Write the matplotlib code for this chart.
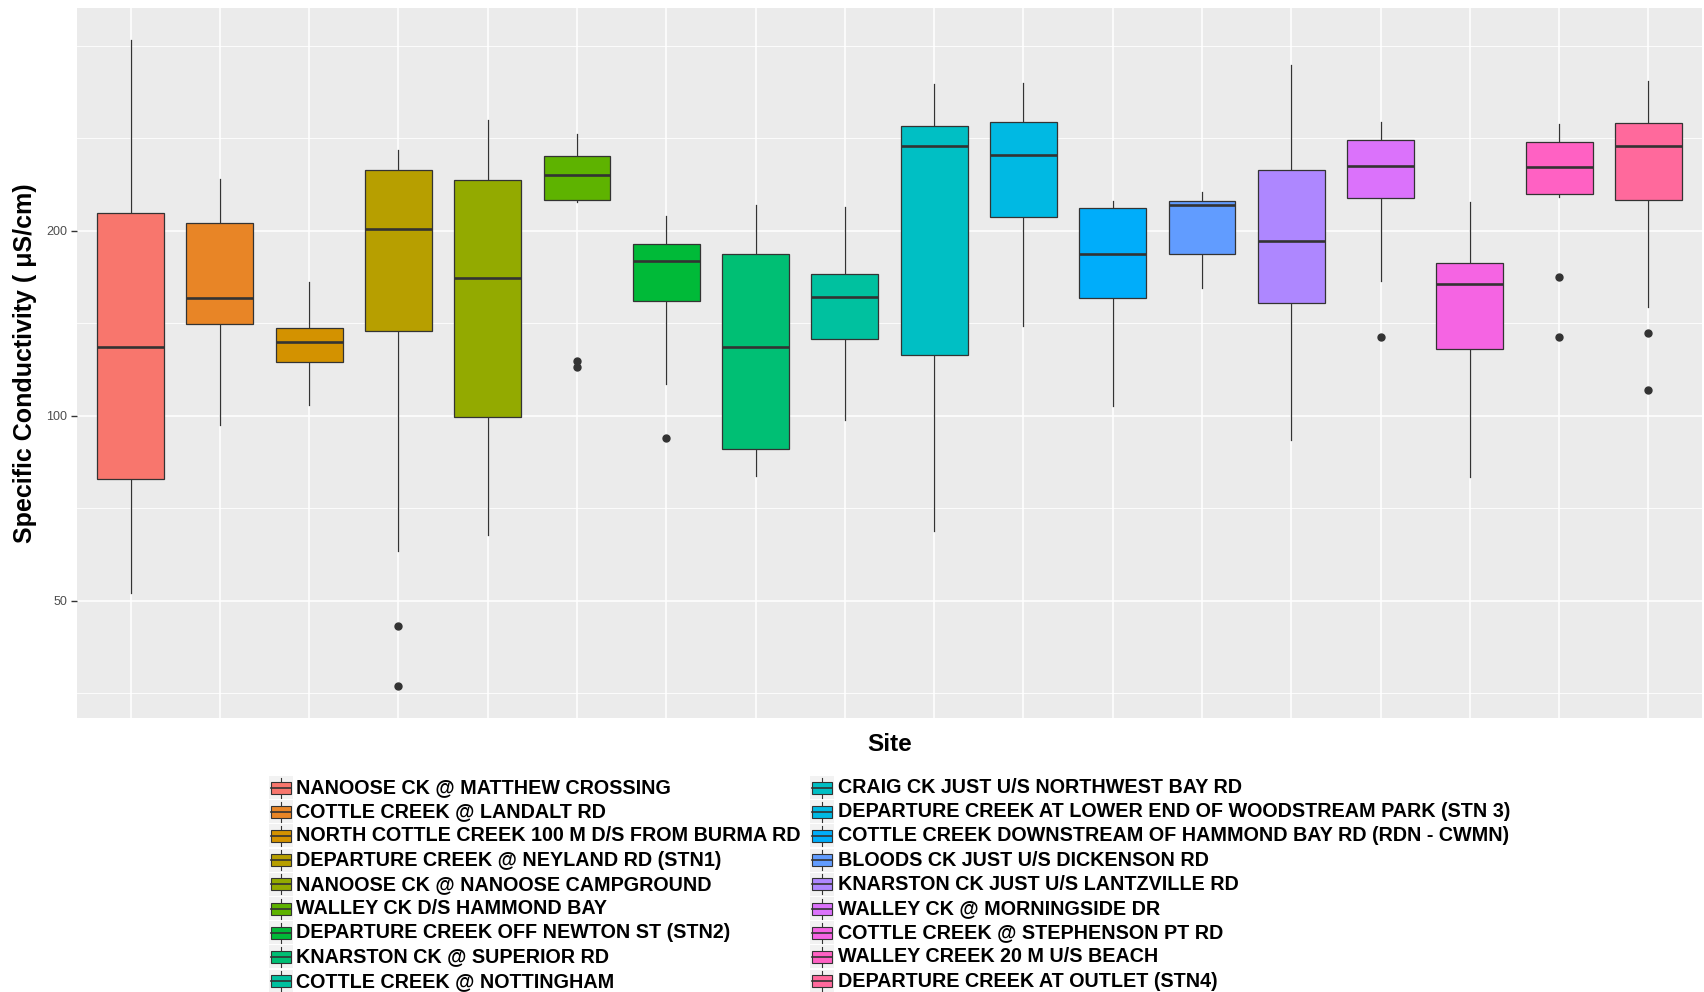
#!/usr/bin/env python3

import numpy as np
import matplotlib
matplotlib.use('Agg')
import matplotlib.pyplot as plt
from matplotlib.patches import Rectangle

# site names, in plotting order
sites = [
  'NANOOSE CK @ MATTHEW CROSSING',
  'COTTLE CREEK @ LANDALT RD',
  'NORTH COTTLE CREEK 100 M D/S FROM BURMA RD',
  'DEPARTURE CREEK @ NEYLAND RD (STN1)',
  'NANOOSE CK @ NANOOSE CAMPGROUND',
  'WALLEY CK D/S HAMMOND BAY',
  'DEPARTURE CREEK OFF NEWTON ST (STN2)',
  'KNARSTON CK @ SUPERIOR RD',
  'COTTLE CREEK @ NOTTINGHAM',
  'CRAIG CK JUST U/S NORTHWEST BAY RD',
  'DEPARTURE CREEK AT LOWER END OF WOODSTREAM PARK (STN 3)',
  'COTTLE CREEK DOWNSTREAM OF HAMMOND BAY RD (RDN - CWMN)',
  'BLOODS CK JUST U/S DICKENSON RD',
  'KNARSTON CK JUST U/S LANTZVILLE RD',
  'WALLEY CK @ MORNINGSIDE DR',
  'COTTLE CREEK @ STEPHENSON PT RD',
  'WALLEY CREEK 20 M U/S BEACH',
  'DEPARTURE CREEK AT OUTLET (STN4)',
]

# box statistics (uS/cm)
whislo = [51.6, 96.6, 104.2, 60.2, 63.9, 222.6, 112.8, 79.9, 98.6,
          65.0, 139.8, 103.8, 161.5, 91.3, 165.8, 79.5, 226.6, 150.2]
q1     = [79.0, 141.1, 122.2, 137.6, 99.5, 224.4, 153.6, 88.4, 133.2,
          125.8, 210.8, 155.2, 183.4, 152.3, 226.3, 128.3, 229.8, 224.4]
med    = [129.6, 155.2, 132.0, 201.4, 167.6, 246.6, 178.4, 129.6, 155.8,
          274.7, 265.4, 183.5, 220.2, 192.2, 255.2, 163.6, 253.9, 274.7]
q3     = [213.5, 205.9, 139.0, 251.3, 241.6, 265.0, 190.6, 183.5, 170.1,
          296.3, 300.4, 217.4, 223.6, 251.3, 280.5, 177.0, 278.5, 299.4]
whishi = [408.0, 243.0, 164.8, 270.6, 303.0, 286.8, 211.5, 219.8, 218.7,
          346.3, 348.2, 223.3, 231.4, 372.3, 300.4, 222.4, 298.3, 349.9]
fliers = [[], [], [], [45.5, 36.4], [], [122.8, 119.9], [92.0], [], [],
          [], [], [], [], [], [134.4], [], [168.4, 134.4], [136.6, 110.0]]

ytick_vals = [50, 100, 200]
yminor_vals = [35.36, 70.71, 141.42, 282.84, 400]

W, H = 1704, 992
INK = '#333333'
FONT = ['Liberation Sans', 'DejaVu Sans']


def hue_pal(n, c=100, l=65):
  # same as ggplot2's default discrete colour scale
  hues = np.linspace(15, 375, n + 1)[:n]
  xn, yn, zn = 0.95047, 1.0, 1.08883
  un = 4 * xn / (xn + 15 * yn + 3 * zn)
  vn = 9 * yn / (xn + 15 * yn + 3 * zn)
  m = np.array([[3.2404542, -1.5371385, -0.4985314],
                [-0.9692660, 1.8760108, 0.0415560],
                [0.0556434, -0.2040259, 1.0572252]])
  out = []
  for h in hues:
    hr = np.deg2rad(h)
    u = c * np.cos(hr)
    v = c * np.sin(hr)
    Y = ((l + 16) / 116) ** 3
    up = u / (13 * l) + un
    vp = v / (13 * l) + vn
    X = 9 * Y * up / (4 * vp)
    Z = (9 * Y / vp - X - 15 * Y) / 3
    rgb = m @ np.array([X, Y, Z])
    rgb = np.where(rgb <= 0.0031308, 12.92 * rgb,
                   1.055 * np.clip(rgb, 0, None) ** (1 / 2.4) - 0.055)
    rgb = np.clip(rgb, 0, 1)
    out.append('#%02x%02x%02x' % tuple(int(round(x * 255)) for x in rgb))
  return out


def main():
  plt.rcParams['font.family'] = FONT
  colors = hue_pal(len(sites))

  fig = plt.figure(figsize=(W / 100, H / 100), dpi=100)
  ax = fig.add_axes([77 / W, 1 - 718 / H, (1702 - 77) / W, (718 - 8) / H])
  ax.set_facecolor('#EBEBEB')

  stats = []
  for i in range(len(sites)):
    stats.append({'whislo': whislo[i], 'q1': q1[i], 'med': med[i],
                  'q3': q3[i], 'whishi': whishi[i], 'fliers': fliers[i]})

  pos = np.arange(1, len(sites) + 1)
  bp = ax.bxp(stats, positions=pos, widths=0.75, patch_artist=True,
              showcaps=False, manage_ticks=False,
              boxprops=dict(edgecolor=INK, linewidth=0.9),
              whiskerprops=dict(color=INK, linewidth=0.9),
              medianprops=dict(color=INK, linewidth=1.9),
              flierprops=dict(marker='o', markerfacecolor=INK,
                              markeredgecolor=INK, markersize=5))
  for patch, col in zip(bp['boxes'], colors):
    patch.set_facecolor(col)
    patch.set_zorder(3)
  for key in ('whiskers', 'medians', 'fliers'):
    for a in bp[key]:
      a.set_zorder(4 if key != 'whiskers' else 2)

  # y axis: log scale with ggplot-like 5% expansion
  ax.set_yscale('log')
  allv = whislo + whishi + [v for f in fliers for v in f]
  lo, hi = np.log10(min(allv)), np.log10(max(allv))
  pad = 0.05 * (hi - lo)
  ax.set_ylim(10 ** (lo - pad), 10 ** (hi + pad))
  ax.set_xlim(0.4, len(sites) + 0.6)

  ax.set_yticks(ytick_vals)
  ax.set_yticklabels([str(v) for v in ytick_vals])
  ax.set_yticks(yminor_vals, minor=True)
  ax.yaxis.set_minor_formatter(matplotlib.ticker.NullFormatter())
  ax.set_xticks(pos)
  ax.set_xticklabels([])

  ax.tick_params(axis='y', which='major', length=4, width=1, color=INK,
                 labelsize=9, labelcolor='#4D4D4D', pad=3)
  ax.tick_params(axis='y', which='minor', length=0)
  ax.tick_params(axis='x', which='both', length=0)

  ax.grid(True, which='major', color='white', linewidth=1.1, zorder=0)
  ax.grid(True, which='minor', axis='y', color='white', linewidth=0.6)
  ax.set_axisbelow(True)
  for s in ax.spines.values():
    s.set_visible(False)

  ax.set_ylabel('Specific Conductivity ( \u03bcS/cm)', fontsize=18,
                fontweight='bold')
  ax.yaxis.set_label_coords(-0.0246, 0.5)
  ax.set_xlabel('Site', fontsize=17.5, fontweight='bold')
  ax.xaxis.set_label_coords(0.5, -0.0205)

  # legend drawn in pixel space underneath the panel
  lg = fig.add_axes([0, 0, 1, 1])
  lg.set_xlim(0, W)
  lg.set_ylim(H, 0)
  lg.axis('off')
  nrow = 9
  col_x = [269, 810]
  for i, (name, col) in enumerate(zip(sites, colors)):
    x0 = col_x[i // nrow]
    yc = 787.5 + (i % nrow) * 24.2
    lg.add_patch(Rectangle((x0, yc - 11.5), 24, 23, facecolor='#F2F2F2',
                           edgecolor='none'))
    lg.plot([x0 + 12, x0 + 12], [yc - 10, yc + 10], color=INK, lw=0.8)
    lg.add_patch(Rectangle((x0 + 2, yc - 6), 20, 12, facecolor=col,
                           edgecolor=INK, linewidth=0.8, zorder=3))
    lg.plot([x0 + 2, x0 + 22], [yc, yc], color=INK, lw=1.2, zorder=4)
    lg.text(x0 + 27.5, yc, name, fontsize=14.2, fontweight='bold',
            va='center', ha='left', color='black')

  fig.savefig('out.png', dpi=100)


if __name__ == '__main__':
  main()
